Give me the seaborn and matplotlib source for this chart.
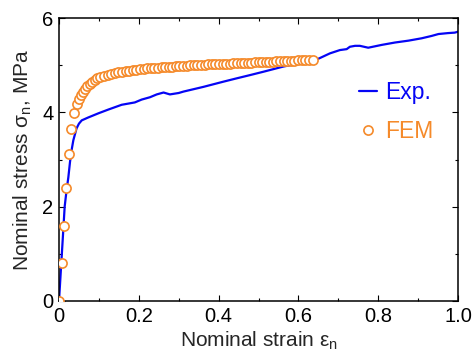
import matplotlib
matplotlib.use("Agg")
import matplotlib.pyplot as plt
from matplotlib.ticker import MultipleLocator, FixedLocator, FixedFormatter
import seaborn as sns
import pandas as pd

# Experimental curve
exp_strain = [0, 0.005, 0.010, 0.0142, 0.019, 0.0234, 0.0276, 0.032, 0.036, 0.044, 0.050,
              0.057, 0.073, 0.099, 0.124, 0.157, 0.19, 0.207, 0.228, 0.245, 0.262, 0.278,
              0.300, 0.312, 0.362, 0.412, 0.445, 0.479, 0.512, 0.562, 0.604, 0.646, 0.679,
              0.704, 0.721, 0.729, 0.742, 0.754, 0.775, 0.809, 0.842, 0.876, 0.909, 0.934,
              0.951, 0.975, 0.992, 1.0]
exp_stress = [0, 0.70, 1.40, 2.00, 2.35, 2.62, 2.95, 3.22, 3.41, 3.66, 3.76,
              3.83, 3.89, 3.98, 4.06, 4.16, 4.21, 4.27, 4.32, 4.38, 4.42, 4.38,
              4.41, 4.44, 4.54, 4.65, 4.72, 4.79, 4.86, 4.97, 5.04, 5.12, 5.25,
              5.32, 5.34, 5.39, 5.41, 5.41, 5.37, 5.43, 5.48, 5.52, 5.57, 5.62,
              5.66, 5.68, 5.69, 5.71]

# FEM simulation points
fem_strain = [0.0, 0.0067, 0.0118, 0.0168, 0.025, 0.031, 0.0376, 0.044, 0.050, 0.055,
              0.060, 0.065, 0.071, 0.077, 0.083, 0.089, 0.095, 0.104, 0.113, 0.122,
              0.131, 0.140, 0.149, 0.158, 0.167, 0.176, 0.185, 0.194, 0.203, 0.212,
              0.221, 0.230, 0.239, 0.248, 0.257, 0.266, 0.275, 0.284, 0.293, 0.302,
              0.311, 0.320, 0.329, 0.338, 0.347, 0.356, 0.365, 0.374, 0.383, 0.392,
              0.401, 0.410, 0.419, 0.428, 0.437, 0.446, 0.455, 0.464, 0.473, 0.482,
              0.491, 0.500, 0.509, 0.518, 0.527, 0.536, 0.545, 0.554, 0.563, 0.572,
              0.581, 0.590, 0.599, 0.608, 0.617, 0.626, 0.636]
fem_stress = [0.0, 0.81, 1.60, 2.40, 3.12, 3.65, 3.98, 4.17, 4.29, 4.37,
              4.44, 4.50, 4.56, 4.61, 4.65, 4.69, 4.72, 4.75, 4.78, 4.80,
              4.82, 4.84, 4.85, 4.86, 4.87, 4.88, 4.89, 4.90, 4.91, 4.92,
              4.93, 4.94, 4.945, 4.95, 4.955, 4.96, 4.965, 4.97, 4.975, 4.98,
              4.985, 4.99, 4.995, 5.00, 5.00, 5.005, 5.01, 5.015, 5.02, 5.02,
              5.025, 5.03, 5.03, 5.035, 5.04, 5.04, 5.045, 5.05, 5.05, 5.055,
              5.06, 5.06, 5.065, 5.07, 5.07, 5.075, 5.08, 5.08, 5.085, 5.09,
              5.09, 5.095, 5.10, 5.10, 5.105, 5.11, 5.11]

x_ticks = [0, 0.2, 0.4, 0.6, 0.8, 1.0]
x_ticklabels = ["0", "0.2", "0.4", "0.6", "0.8", "1.0"]
y_ticks = [0, 2, 4, 6]
y_ticklabels = ["0", "2", "4", "6"]

sns.set_style("ticks")
plt.rcParams["font.family"] = ["Liberation Sans", "DejaVu Sans"]
plt.rcParams["mathtext.fontset"] = "custom"
plt.rcParams["mathtext.rm"] = "Liberation Sans"
plt.rcParams["mathtext.it"] = "Liberation Sans:italic"

BLUE = "#0505F5"
ORANGE = "#F58A2A"

df_exp = pd.DataFrame({"strain": exp_strain, "stress": exp_stress})
df_fem = pd.DataFrame({"strain": fem_strain, "stress": fem_stress})

fig = plt.figure(figsize=(4.73, 3.54), dpi=100)
ax = fig.add_axes([59/473, 1-301/354, 399/473, 283/354])

sns.lineplot(data=df_exp, x="strain", y="stress", ax=ax, color=BLUE, lw=1.6,
             label="Exp.", zorder=2, sort=False)
sns.lineplot(data=df_fem, x="strain", y="stress", ax=ax, color=ORANGE, lw=0,
             marker="o", markersize=6.6, markerfacecolor="white",
             markeredgecolor=ORANGE, markeredgewidth=1.2, label="FEM",
             zorder=3, sort=False)

ax.set_xlim(0, 1.0)
ax.set_ylim(0, 6)
ax.xaxis.set_major_locator(FixedLocator(x_ticks))
ax.xaxis.set_major_formatter(FixedFormatter(x_ticklabels))
ax.yaxis.set_major_locator(FixedLocator(y_ticks))
ax.yaxis.set_major_formatter(FixedFormatter(y_ticklabels))
ax.xaxis.set_minor_locator(MultipleLocator(0.1))
ax.yaxis.set_minor_locator(MultipleLocator(1))
ax.tick_params(which="both", direction="in", top=True, right=True,
               width=0.8, colors="black", labelsize=14.5, pad=4)
ax.tick_params(which="major", length=4)
ax.tick_params(which="minor", length=2.5)
for s in ax.spines.values():
    s.set_linewidth(1.1)
    s.set_color("black")

ax.set_xlabel("Nominal strain ε$_\\mathrm{n}$", fontsize=15, labelpad=3)
ax.set_ylabel("Nominal stress σ$_\\mathrm{n}$, MPa", fontsize=15, labelpad=6)

leg = ax.legend(loc="upper left", bbox_to_anchor=(0.752, 0.778), frameon=False,
                fontsize=16.5, handlelength=0.8, handletextpad=0.35,
                labelspacing=0.72, borderpad=0, borderaxespad=0)
for text, c in zip(leg.get_texts(), [BLUE, ORANGE]):
    text.set_color(c)

fig.savefig("out.png", dpi=100)
